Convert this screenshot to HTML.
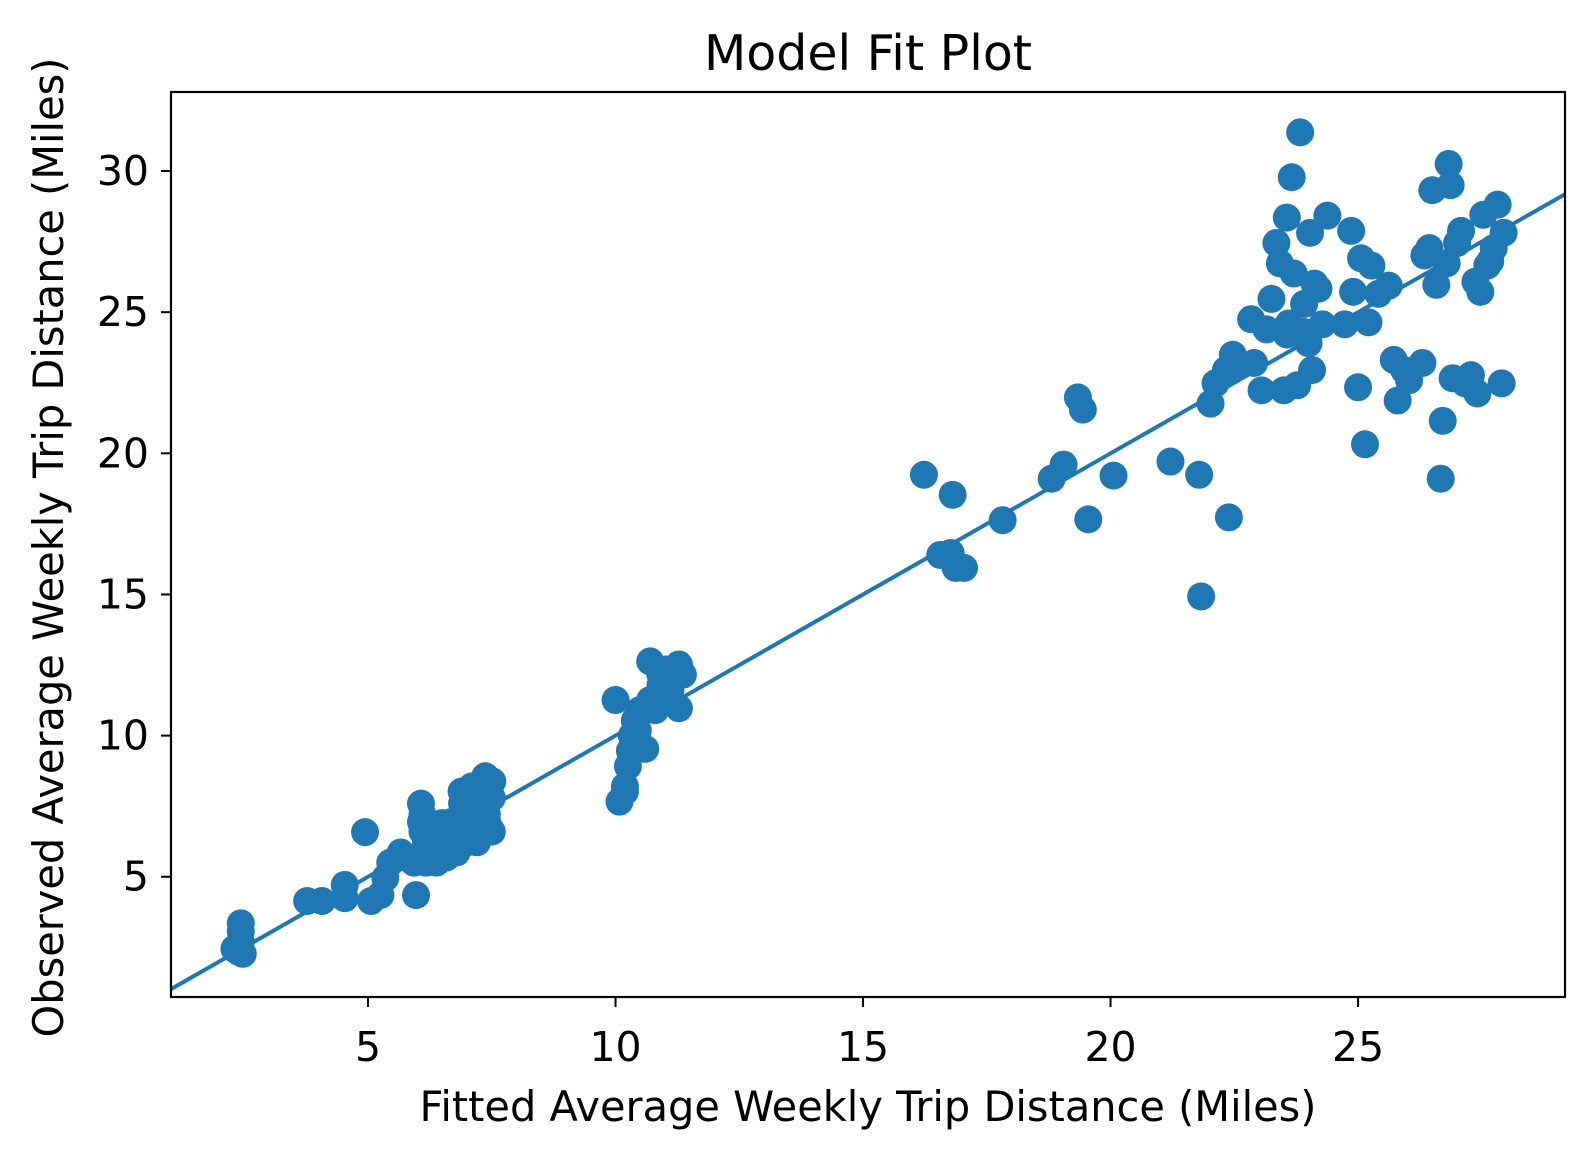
<!DOCTYPE html>
<html><head><meta charset="utf-8">
<style>
html,body{margin:0;padding:0;background:#fff;}
svg{display:block;font-family:"DejaVu Sans","Liberation Sans",sans-serif;}
</style></head>
<body>
<svg id="chart" width="1595" height="1158" viewBox="0 0 1595 1158" xmlns="http://www.w3.org/2000/svg">
<rect x="0" y="0" width="1595" height="1158" fill="#fff"/>
</svg>
<script>
const fittedX = [2.43,2.43,2.43,2.30,2.47,2.39,3.77,4.07,4.53,4.53,4.94,5.06,5.25,5.35,5.45,5.66,5.97,6.07,6.07,6.17,6.38,6.58,6.79,7.00,7.20,7.37,7.51,7.41,7.20,7.00,6.79,6.58,6.38,6.17,6.69,6.89,7.10,7.30,5.93,5.76,6.1,6.3,6.5,6.9,7.1,7.3,7.4,6.6,6.8,7.0,7.2,6.1,6.1,7.5,7.5,
10.0,10.08,10.19,10.25,10.29,10.33,10.39,10.49,10.60,10.70,10.70,11.01,11.28,11.36,11.28,11.11,10.91,10.80,10.45,10.19,10.6,10.9,11.0,
16.23,16.81,16.56,16.77,16.87,17.04,17.82,18.81,19.05,19.34,19.44,19.55,20.06,21.21,21.79,21.83,22.39,
22.02,22.12,22.33,22.47,22.63,22.84,23.05,23.15,23.25,23.35,23.42,23.56,23.66,23.83,23.70,23.56,23.50,23.77,23.91,24.03,24.07,24.12,24.20,24.28,24.38,24.73,24.86,24.90,25.00,25.06,25.14,25.21,25.27,25.41,25.62,25.72,25.80,25.93,26.03,26.30,26.34,26.44,26.50,26.58,26.71,26.67,26.79,26.83,26.87,26.91,27.0,27.08,27.16,27.28,27.37,27.41,27.47,27.53,27.61,27.67,27.74,27.82,27.90,27.94,23.9,24.0,23.6,22.9];
const observedY = [3.35,3.06,2.70,2.45,2.27,2.34,4.14,4.14,4.24,4.71,6.58,4.14,4.35,4.96,5.50,5.86,4.35,7.59,6.94,6.22,5.50,5.86,6.58,7.30,7.66,8.56,8.38,6.94,6.22,6.22,5.86,5.68,6.04,5.50,6.94,8.02,8.20,7.48,5.50,5.68,7.0,6.5,6.9,7.6,7.0,7.9,7.2,6.3,6.8,6.6,7.3,6.6,7.2,7.8,6.6,
11.26,7.66,8.20,8.92,9.46,10.0,10.54,10.90,9.53,11.26,12.63,12.34,12.52,12.16,10.97,11.62,11.80,10.90,10.18,8.02,11.0,12.2,11.4,
19.24,18.53,16.40,16.47,15.94,15.94,17.63,19.10,19.60,21.98,21.55,17.66,19.21,19.71,19.24,14.93,17.73,
21.76,22.48,22.95,23.49,23.13,24.75,22.23,24.39,25.47,27.45,26.73,28.35,29.78,31.37,26.37,24.21,22.23,22.41,25.29,27.81,22.95,26.01,25.83,24.57,28.42,24.57,27.88,25.72,22.34,26.91,20.32,24.64,26.65,25.65,25.94,23.31,21.87,22.95,22.59,23.20,27.01,27.27,29.32,25.97,21.15,19.10,26.73,30.25,29.50,22.66,27.45,27.88,22.48,22.77,26.08,22.12,25.72,28.45,26.65,26.80,27.27,28.81,22.48,27.81,24.3,23.9,24.6,23.2];
const xTicks = [5,10,15,20,25];
const yTicks = [5,10,15,20,25,30];
const fitLine = [1.02,29.18];

const L=171,R=1565,T=92,B=997;
const xMin=1.02,xMax=29.18,yMin=0.74,yMax=32.8;
const sx=v=>L+(v-xMin)/(xMax-xMin)*(R-L);
const sy=v=>B-(v-yMin)/(yMax-yMin)*(B-T);
const NS="http://www.w3.org/2000/svg";
const svg=document.getElementById('chart');
function mk(tag,attrs,parent){const e=document.createElementNS(NS,tag);for(const k in attrs)e.setAttribute(k,attrs[k]);(parent||svg).appendChild(e);return e;}

const clip=mk('clipPath',{id:'pc'});
mk('rect',{x:L,y:T,width:R-L,height:B-T},clip);

const pts=mk('g',{'clip-path':'url(#pc)'});


for(let i=0;i<fittedX.length;i++){
  const c=mk('circle',{cx:sx(fittedX[i]),cy:sy(observedY[i]),r:14,fill:'#1f77b4'},pts);
  
  
}
const ln=mk('line',{x1:sx(fitLine[0]),y1:sy(fitLine[0]),x2:sx(fitLine[1]),y2:sy(fitLine[1]),stroke:'#1f77b4','stroke-width':4,'clip-path':'url(#pc)'});



const frame=mk('rect',{x:L,y:T,width:R-L,height:B-T,fill:'none',stroke:'#000','stroke-width':2.2});



xTicks.forEach(v=>{
  const x=sx(v);
  const tk=mk('line',{x1:x,y1:B,x2:x,y2:B+10,stroke:'#000','stroke-width':2});
  
  
  const t=mk('text',{x:x,y:B+64,'text-anchor':'middle','font-size':41,fill:'#000'});
  t.textContent=v;
  
  
});
yTicks.forEach(v=>{
  const y=sy(v);
  const tk=mk('line',{x1:L-10,y1:y,x2:L,y2:y,stroke:'#000','stroke-width':2});
  
  
  const t=mk('text',{x:L-22,y:y+14,'text-anchor':'end','font-size':41,fill:'#000'});
  t.textContent=v;
  
  
});
const title=mk('text',{x:(L+R)/2,y:70,'text-anchor':'middle','font-size':49,fill:'#000'});
title.textContent='Model Fit Plot';


const xl=mk('text',{x:(L+R)/2,y:1121,'text-anchor':'middle','font-size':41.5,fill:'#000'});
xl.textContent='Fitted Average Weekly Trip Distance (Miles)';


const yl=mk('text',{x:0,y:0,'text-anchor':'middle','font-size':41.5,fill:'#000',transform:`translate(63,${(T+B)/2+3}) rotate(-90)`});
yl.textContent='Observed Average Weekly Trip Distance (Miles)';


</script>
</body></html>
